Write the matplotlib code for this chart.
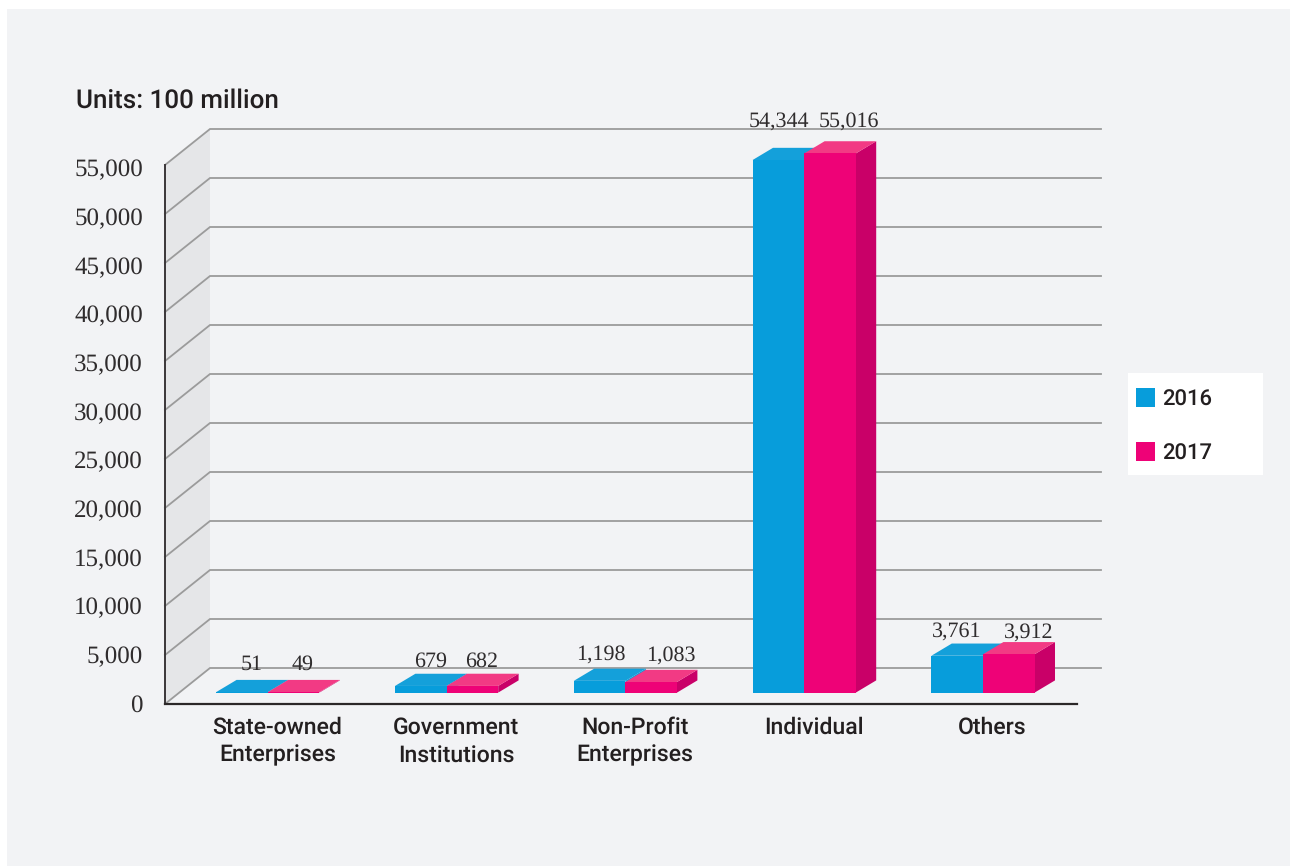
import matplotlib
matplotlib.use("Agg")
import matplotlib.pyplot as plt
from matplotlib.patches import Polygon, Rectangle

plt.rcParams["text.hinting"] = "no_hinting"
plt.rcParams["text.hinting_factor"] = 1

categories = ["State-owned\nEnterprises", "Government\nInstitutions", "Non-Profit\nEnterprises", "Individual", "Others"]
values_2016 = [51, 679, 1198, 54344, 3761]
values_2017 = [49, 682, 1083, 55016, 3912]
y_ticks = [0, 5000, 10000, 15000, 20000, 25000, 30000, 35000, 40000, 45000, 50000, 55000]

BLUE, BLUE_TOP = "#079ddb", "#14a0da"
PINK, PINK_TOP, PINK_SIDE = "#ee0277", "#f23a84", "#c90068"
PANEL = "#f2f3f5"
SANS = "Roboto"
SERIF = "Liberation Serif"

W, H = 1290, 866
PX_PER_UNIT = 0.0098   # pixels per value unit
PX_PER_CAT = 178.8     # pixels between groups
X0, BASE = 267.8, 692.6  # where the first group sits, and the bar floor

fig = plt.figure(figsize=(W / 100, H / 100), dpi=100, facecolor="white")
ax = fig.add_axes([0, 0, 1, 1])
ax.set_xlim(-X0 / PX_PER_CAT, (W - X0) / PX_PER_CAT)
ax.set_ylim((BASE - H) / PX_PER_UNIT, BASE / PX_PER_UNIT)
ax.axis("off")


# pixel offsets to data units
def dx(px):
    return px / PX_PER_CAT


def dy(px):
    return px / PX_PER_UNIT


def at(px_x, px_y):
    return (px_x - X0) / PX_PER_CAT, (BASE - px_y) / PX_PER_UNIT


# background panel
x_a, y_a = at(7, 866)
x_b, y_b = at(1290, 9)
ax.add_patch(Rectangle((x_a, y_a), x_b - x_a, y_b - y_a, color=PANEL, lw=0, zorder=0))

# back wall and gridlines
depth_x, depth_y = dx(45), dy(36)
axis_x = at(165, 0)[0]
floor = at(0, 704)[1]
top = floor + y_ticks[-1]
ax.add_patch(Polygon([(axis_x, floor), (axis_x + depth_x, floor + depth_y),
                      (axis_x + depth_x, top + depth_y), (axis_x, top)],
                     color="#e5e6e8", lw=0, zorder=1))
grid_end = at(1101, 0)[0]
for t in y_ticks:
    ax.plot([axis_x, axis_x + depth_x, grid_end], [floor + t, floor + t + depth_y, floor + t + depth_y],
            color="#9b9b9b", lw=1.3, zorder=2, solid_joinstyle="miter")

# axis lines
ax.plot([axis_x, axis_x], [floor, top], color="#3a3638", lw=1.4, zorder=3)
ax.plot([axis_x, at(1077, 0)[0]], [floor, floor], color="#2b2728", lw=1.6, zorder=3)

# y tick labels
for i, t in enumerate(y_ticks):
    ax.text(at(143, 0)[0], at(0, 703 - 48.64 * i)[1], f"{t:,}", ha="right", va="center_baseline",
            family=SERIF, fontsize=18, color="#2f2c2d", zorder=6)


def bar3d(left, value, front, top_color, side_color):
    w, ox, oy = dx(51.6), dx(20.4), dy(12.2)
    ax.add_patch(Polygon([(left + w, 0), (left + w + ox, oy), (left + w + ox, value + oy), (left + w, value)],
                         color=side_color, lw=0, zorder=4))
    ax.add_patch(Polygon([(left, value), (left + ox, value + oy), (left + w + ox, value + oy), (left + w, value)],
                         color=top_color, lw=0, zorder=4))
    ax.add_patch(Rectangle((left, 0), w, value, color=front, lw=0, zorder=4))


# bars, 2016 first so 2017 overlaps its side
for i in range(len(categories)):
    bar3d(i - dx(51.6), values_2016[i], BLUE, BLUE_TOP, BLUE)
    bar3d(i, values_2017[i], PINK, PINK_TOP, PINK_SIDE)

# value labels, nudged by hand so they clear the bar tops
nudge_2016 = [(10, 29.5), (10, 26.5), (1, 27.5), (1, 41), (0, 26.5)]
nudge_2017 = [(9, 29.5), (9, 26.5), (19, 28.5), (19, 33), (20, 24.5)]
for i in range(len(categories)):
    for vals, off, nudge in ((values_2016, -26, nudge_2016), (values_2017, 26, nudge_2017)):
        ax.text(i + dx(off + nudge[i][0]), vals[i] + dy(nudge[i][1]), f"{vals[i]:,}", ha="center",
                va="center_baseline", family=SERIF, fontsize=15.8, color="#2f2c2d", zorder=6)

# category labels
for i, name in enumerate(categories):
    ax.text(i + dx(9.5), at(0, 717)[1], name, ha="center", va="top", family=SANS, fontsize=16.6,
            weight="medium", color="#231f20", linespacing=1.3, zorder=6)

ax.text(*at(76, 98.5), "Units: 100 million", ha="left", va="center_baseline", family=SANS, fontsize=18.9,
        weight="medium", color="#231f20", zorder=6)

# legend box
lx, ly = at(1128, 475)
lx2, ly2 = at(1263, 373)
ax.add_patch(Rectangle((lx, ly), lx2 - lx, ly2 - ly, color="white", lw=0, zorder=5))
for year, color, py in (("2016", BLUE, 397), ("2017", PINK, 451)):
    sx, sy = at(1136, py + 9.5)
    ax.add_patch(Rectangle((sx, sy), dx(19), dy(19), color=color, lw=0, zorder=6))
    ax.text(*at(1162, py + 1), year, ha="left", va="center_baseline", family=SANS, fontsize=15.6,
            weight="medium", color="#231f20", zorder=6)

fig.savefig("out.png", dpi=100, facecolor="white")
